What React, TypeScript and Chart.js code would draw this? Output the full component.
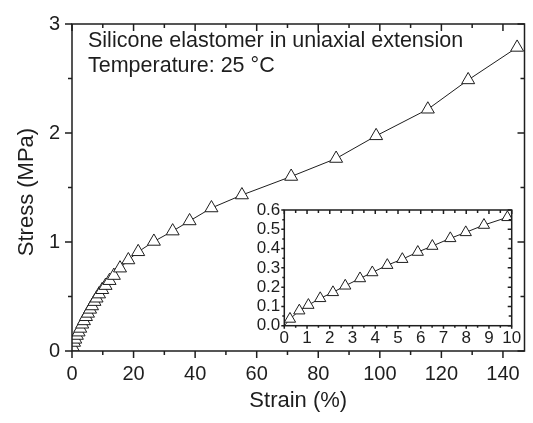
import { useEffect, useRef } from "react";
import { Chart, registerables } from "chart.js";
Chart.register(...registerables);

const FONT = "'Liberation Sans', Arial, Helvetica, sans-serif";
const INK = "#1e1e1e";

// Stress-strain data (strain %, stress MPa)
const strain = [0, 0.25, 0.66, 1.06, 1.58, 2.14, 2.68, 3.33, 3.87, 4.53, 5.19, 5.87, 6.51, 7.3, 7.98, 8.78, 9.81, 10.9, 12.2, 13.6, 15.6, 18.3, 21.5, 26.6, 32.7, 38.2, 45.3, 55.2, 71.2, 85.8, 98.8, 115.6, 128.7, 144.6];
const stress = [0, 0.035, 0.078, 0.107, 0.142, 0.173, 0.207, 0.245, 0.276, 0.314, 0.345, 0.382, 0.413, 0.453, 0.484, 0.522, 0.562, 0.6, 0.645, 0.692, 0.76, 0.835, 0.91, 1.005, 1.1, 1.193, 1.312, 1.431, 1.601, 1.766, 1.974, 2.218, 2.487, 2.785];

// main axes ticks
const mainXMajor = [0, 20, 40, 60, 80, 100, 120, 140];
const mainXMinor = [10, 30, 50, 70, 90, 110, 130];
const mainYMajor = [0, 1, 2, 3];
const mainYMinor = [0.5, 1.5, 2.5];
// inset ticks
const insetXMajor = [0, 1, 2, 3, 4, 5, 6, 7, 8, 9, 10];
const insetXMinor = [0.5, 1.5, 2.5, 3.5, 4.5, 5.5, 6.5, 7.5, 8.5, 9.5];
const insetYMajor = [0, 0.1, 0.2, 0.3, 0.4, 0.5, 0.6];
const insetYMinor = [0.05, 0.15, 0.25, 0.35, 0.45, 0.55];

const annotationLines = ["Silicone elastomer in uniaxial extension", "Temperature: 25 °C"];
const xTitle = "Strain (%)";
const yTitle = "Stress (MPa)";

type TickCfg = {
  xMajor: number[]; xMinor: number[]; yMajor: number[]; yMinor: number[];
  outMaj: number; outMin: number; inMaj: number; inMin: number; lw: number;
  innerTop: boolean; innerRight: boolean;
};

function framePlugin(cfg: TickCfg) {
  return {
    id: "frameTicks",
    afterDatasetsDraw(chart: any) {
      const { ctx, chartArea: a, scales } = chart;
      const xs = scales.x, ys = scales.y;
      ctx.save();
      ctx.strokeStyle = INK;
      ctx.lineWidth = cfg.lw;
      ctx.lineCap = "butt";
      ctx.beginPath();
      const drawX = (vals: number[], out: number, inn: number) => {
        vals.forEach((v) => {
          const p = xs.getPixelForValue(v);
          if (out > 0) {
            ctx.moveTo(p, a.bottom);
            ctx.lineTo(p, a.bottom + out);
          }
          if (cfg.innerTop) {
            ctx.moveTo(p, a.top);
            ctx.lineTo(p, a.top + inn);
          }
        });
      };
      const drawY = (vals: number[], out: number, inn: number) => {
        vals.forEach((v) => {
          const p = ys.getPixelForValue(v);
          if (out > 0) {
            ctx.moveTo(a.left, p);
            ctx.lineTo(a.left - out, p);
          }
          if (cfg.innerRight) {
            ctx.moveTo(a.right, p);
            ctx.lineTo(a.right - inn, p);
          }
        });
      };
      drawX(cfg.xMajor, cfg.outMaj, cfg.inMaj);
      drawX(cfg.xMinor, cfg.outMin, cfg.inMin);
      drawY(cfg.yMajor, cfg.outMaj, cfg.inMaj);
      drawY(cfg.yMinor, cfg.outMin, cfg.inMin);
      ctx.stroke();
      ctx.strokeRect(a.left, a.top, a.right - a.left, a.bottom - a.top);
      ctx.restore();
    },
  };
}

const textPlugin = {
  id: "texts",
  afterDraw(chart: any) {
    const { ctx, chartArea: a } = chart;
    ctx.save();
    ctx.fillStyle = INK;
    ctx.font = `21.5px ${FONT}`;
    ctx.textAlign = "left";
    ctx.textBaseline = "alphabetic";
    ctx.fillText(annotationLines[0], 88, 47);
    ctx.fillText(annotationLines[1], 88, 71.5);
    ctx.font = `22px ${FONT}`;
    ctx.textAlign = "center";
    ctx.textBaseline = "middle";
    ctx.fillText(xTitle, (a.left + a.right) / 2, 401);
    ctx.translate(27, 192);
    ctx.rotate(-Math.PI / 2);
    ctx.fillText(yTitle, 0, 0);
    ctx.restore();
  },
};

const mainPoints = strain.map((x, i) => ({ x, y: stress[i] }));
const insetPoints = strain.map((x, i) => ({ x, y: stress[i] })).filter((p) => p.x <= 11);

const noGrid = { display: false, drawTicks: false };

export default function App() {
  const mainRef = useRef<HTMLCanvasElement>(null);
  const insetRef = useRef<HTMLCanvasElement>(null);

  useEffect(() => {
    Chart.defaults.font.family = FONT;
    Chart.defaults.color = INK;

    const main = new Chart(mainRef.current!, {
      type: "line",
      data: {
        datasets: [
          {
            data: mainPoints,
            borderColor: INK,
            borderWidth: 1,
            pointStyle: "triangle",
            pointRadius: (c: any) => (c.dataIndex === 0 ? 0 : 7.5),
            pointBorderWidth: 1,
            pointBorderColor: INK,
            pointBackgroundColor: "#ffffff",
            tension: 0,
          },
        ],
      },
      options: {
        responsive: false,
        animation: false,
        events: [],
        layout: { padding: { left: 0, top: 15, right: 3.5, bottom: 0 } },
        plugins: { legend: { display: false }, tooltip: { enabled: false } },
        scales: {
          x: {
            type: "linear",
            min: 0,
            max: 147,
            grid: noGrid,
            border: { display: false },
            afterFit: (s: any) => { s.height = 72; },
            ticks: {
              stepSize: 20,
              includeBounds: false,
              autoSkip: false,
              maxRotation: 0,
              padding: 11,
              font: { size: 20 },
              color: INK,
            },
          },
          y: {
            type: "linear",
            min: 0,
            max: 3,
            grid: noGrid,
            border: { display: false },
            afterFit: (s: any) => { s.width = 72; },
            ticks: {
              stepSize: 1,
              includeBounds: false,
              autoSkip: false,
              padding: 12,
              font: { size: 20 },
              color: INK,
            },
          },
        },
      },
      plugins: [
        framePlugin({
          xMajor: mainXMajor, xMinor: mainXMinor, yMajor: mainYMajor, yMinor: mainYMinor,
          outMaj: 7, outMin: 4, inMaj: 7, inMin: 4, lw: 1.5, innerTop: true, innerRight: true,
        }),
        textPlugin,
      ],
    } as any);

    const inset = new Chart(insetRef.current!, {
      type: "line",
      data: {
        datasets: [
          {
            data: insetPoints,
            borderColor: INK,
            borderWidth: 1,
            pointStyle: "triangle",
            pointRadius: (c: any) => (c.dataIndex === 0 ? 0 : 6.5),
            pointBorderWidth: 1,
            pointBorderColor: INK,
            pointBackgroundColor: "#ffffff",
            tension: 0,
          },
        ],
      },
      options: {
        responsive: false,
        animation: false,
        events: [],
        layout: { padding: { left: 0, top: 20, right: 18.3, bottom: 0 } },
        plugins: { legend: { display: false }, tooltip: { enabled: false } },
        scales: {
          x: {
            type: "linear",
            min: 0,
            max: 10,
            grid: noGrid,
            border: { display: false },
            afterFit: (s: any) => { s.height = 34.3; },
            ticks: {
              stepSize: 1,
              includeBounds: false,
              autoSkip: false,
              maxRotation: 0,
              padding: 2,
              font: { size: 17 },
              color: INK,
            },
          },
          y: {
            type: "linear",
            min: 0,
            max: 0.6,
            grid: noGrid,
            border: { display: false },
            afterFit: (s: any) => { s.width = 44.3; },
            ticks: {
              stepSize: 0.1,
              includeBounds: false,
              autoSkip: false,
              padding: 4,
              font: { size: 17 },
              color: INK,
              callback: (v: any) => Number(v).toFixed(1),
            },
          },
        },
      },
      plugins: [
        framePlugin({
          xMajor: insetXMajor, xMinor: insetXMinor, yMajor: insetYMajor, yMinor: insetYMinor,
          outMaj: 3, outMin: 2, inMaj: 4, inMin: 3, lw: 1.5, innerTop: true, innerRight: true,
        }),
      ],
    } as any);

    return () => {
      main.destroy();
      inset.destroy();
    };
  }, []);

  return (
    <div style={{ position: "absolute", left: 0, top: 0, width: 533, height: 423, background: "#fff" }}>
      <canvas ref={mainRef} width={533} height={423} style={{ position: "absolute", left: 0, top: 0 }} />
      <canvas ref={insetRef} width={290} height={170} style={{ position: "absolute", left: 240, top: 190 }} />
    </div>
  );
}
